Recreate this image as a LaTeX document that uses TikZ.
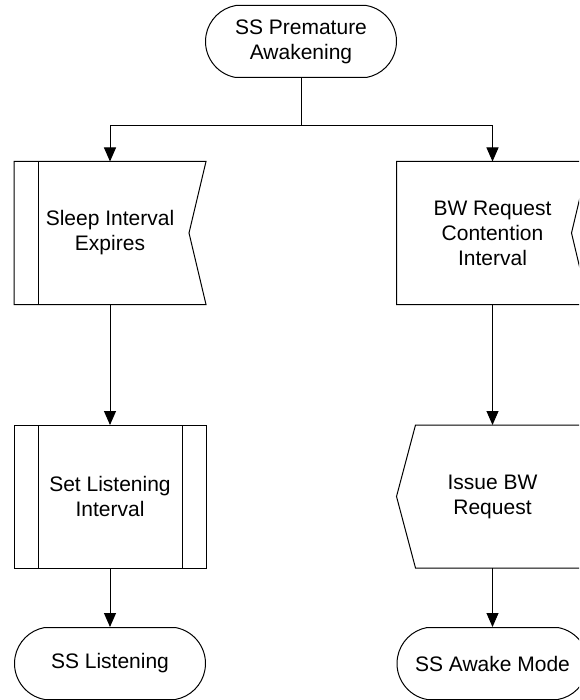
\documentclass[tikz,border=0pt]{standalone}
\usepackage{fontspec}
\setmainfont{Liberation Sans}
\usetikzlibrary{arrows.meta, calc, shapes.misc}
\def\boxwidth{191}
\def\boxheight{142}
\def\termheight{72}
\def\notchdepth{17}
\def\pointdepth{19}
\def\sidebar{24}
\tikzset{>={Triangle[length=14pt,width=12pt]}}
\tikzset{
  boxnode/.style={minimum width=\boxwidth pt, minimum height=\boxheight pt, inner sep=0pt, align=center, font=\fontsize{21}{25}\selectfont},
  termnode/.style={draw, line width=1pt, rounded rectangle, rounded rectangle arc length=160, minimum width=\boxwidth pt, minimum height=\termheight pt, inner sep=0pt, align=center, font=\fontsize{21}{25}\selectfont},
}

\begin{document}
\begin{tikzpicture}[x=1pt, y=-1pt, line width=1pt]

\clip (0,0) rectangle (579,700);

% Start
\node[termnode] (start) at (301,41.5) {SS Premature\\Awakening};

% Left branch
\node[boxnode] (sleep) at (110,233) {Sleep Interval\\Expires};
\node[boxnode] (setlisten) at (110,496.5) {Set Listening\\Interval};
\node[termnode] (listening) at (110,663.5) {SS Listening};

% Right branch
\node[boxnode] (bwreq) at (492.5,233) {BW Request\\Contention\\Interval};
\node[boxnode] (issue) at (492.5,496.5) {Issue BW\\Request};
\node[termnode] (awake) at (492.5,663.5) {SS Awake Mode};

% Sleep Interval Expires
\draw (sleep.north west) -- (sleep.north east) -- ($(sleep.east)+(-\notchdepth,0)$) -- (sleep.south east) -- (sleep.south west) -- cycle;
\draw ($(sleep.north west)+(\sidebar,0)$) -- ($(sleep.south west)+(\sidebar,0)$);

% Set Listening Interval
\draw (setlisten.north west) rectangle (setlisten.south east);
\draw ($(setlisten.north west)+(\sidebar,0)$) -- ($(setlisten.south west)+(\sidebar,0)$);
\draw ($(setlisten.north east)+(-\sidebar,0)$) -- ($(setlisten.south east)+(-\sidebar,0)$);

% BW Request Contention Interval
\draw (bwreq.north west) -- (bwreq.north east) -- ($(bwreq.east)+(-\notchdepth,0)$) -- (bwreq.south east) -- (bwreq.south west) -- cycle;

% Issue BW Request
\draw ($(issue.north west)+(\pointdepth,0)$) -- (issue.north east) -- (issue.south east) -- ($(issue.south west)+(\pointdepth,0)$) -- (issue.west) -- cycle;

% Connectors
\draw (start.south) -- ++(0,48) coordinate (split);
\draw[->] (split) -| (sleep.north);
\draw[->] (split) -| (bwreq.north);
\draw[->] (sleep.south) -- (setlisten.north);
\draw[->] (setlisten.south) -- (listening.north);
\draw[->] (bwreq.south) -- (issue.north);
\draw[->] (issue.south) -- (awake.north);

\end{tikzpicture}
\end{document}
